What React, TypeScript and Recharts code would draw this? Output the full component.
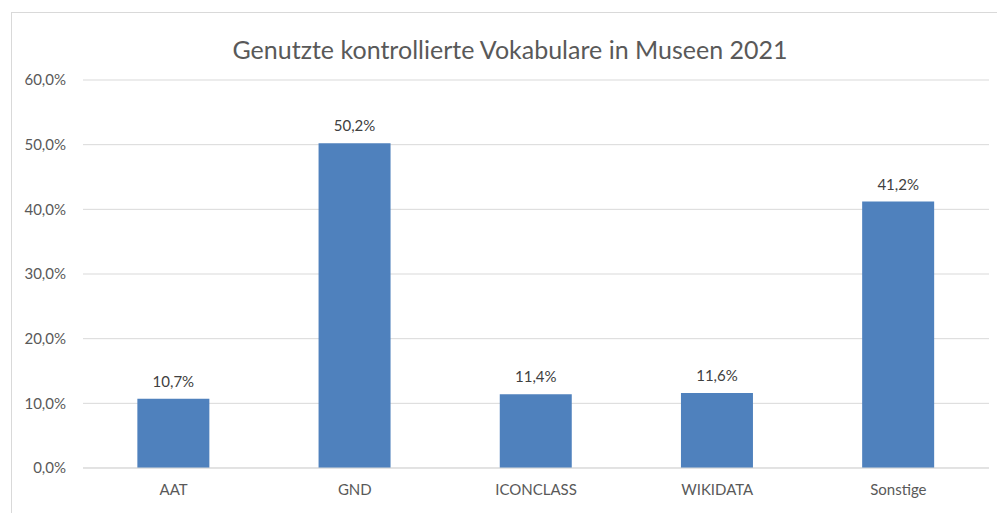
import React from 'react';
import { BarChart, Bar, XAxis, YAxis, CartesianGrid, LabelList } from 'recharts';

const categories = ['AAT', 'GND', 'ICONCLASS', 'WIKIDATA', 'Sonstige'];
const shares = [10.7, 50.2, 11.4, 11.6, 41.2];
const yTicks = [0, 10, 20, 30, 40, 50, 60];

const chartData = categories.map((name, i) => ({ name, share: shares[i] }));

const fmt = (v: number) => v.toFixed(1).replace('.', ',') + '%';

const FONT = 'Lato, "Liberation Sans", sans-serif';

const App: React.FC = () => {
  return (
    <div style={{ position: 'absolute', left: 0, top: 0, width: 997, height: 513, overflow: 'hidden', background: '#fff', fontFamily: FONT }}>
      <div style={{ position: 'absolute', left: 11, top: 12, width: 990, height: 520, border: '1px solid #d9d9d9', boxSizing: 'border-box' }} />
      <div style={{ position: 'absolute', left: 0, top: 34, width: 1020, textAlign: 'center', fontSize: 25, color: '#595959' }}>
        Genutzte kontrollierte Vokabulare in Museen 2021
      </div>
      <div style={{ position: 'absolute', left: 0, top: 0 }}>
        <BarChart width={997} height={513} data={chartData} margin={{ top: 80, right: 8, bottom: 15, left: 0 }} barCategoryGap="30%">
          <CartesianGrid vertical={false} stroke="#d9d9d9" />
          <XAxis
            dataKey="name"
            axisLine={{ stroke: '#d9d9d9' }}
            tickLine={false}
            tickSize={0}
            tickMargin={16}
            height={30}
            tick={{ fill: '#595959', fontSize: 15, fontFamily: FONT }}
          />
          <YAxis
            domain={[0, 60]}
            ticks={yTicks}
            tickFormatter={fmt}
            axisLine={false}
            tickLine={false}
            tickSize={0}
            tickMargin={17}
            width={83}
            tick={{ fill: '#595959', fontSize: 15, fontFamily: FONT }}
          />
          <Bar dataKey="share" fill="#4f81bd" isAnimationActive={false}>
            <LabelList dataKey="share" position="top" offset={12} formatter={(v: any) => fmt(Number(v))} fill="#404040" fontSize={15} fontFamily={FONT} />
          </Bar>
        </BarChart>
      </div>
    </div>
  );
};

export default App;
